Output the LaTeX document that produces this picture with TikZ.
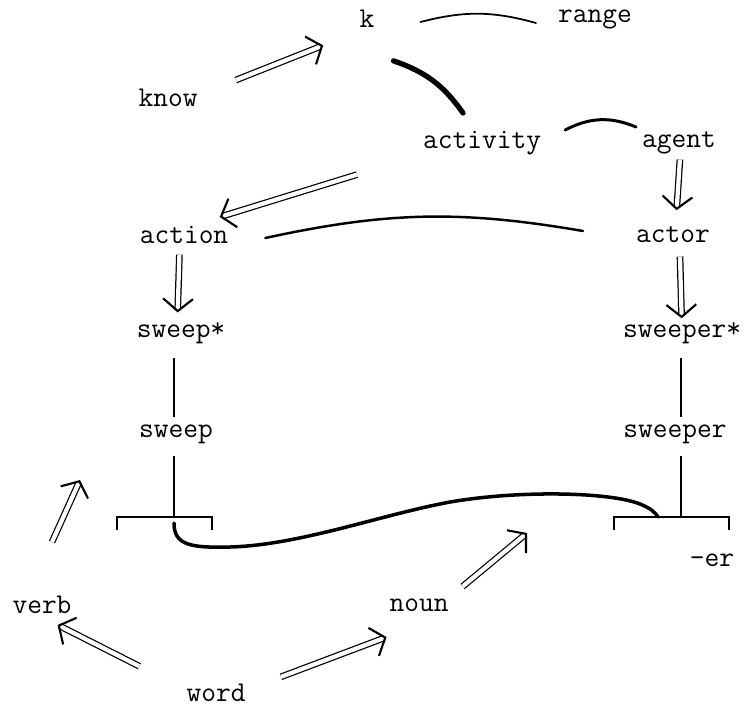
\documentclass[tikz,border=0pt]{standalone}
\usepackage{fontspec}
\usetikzlibrary{arrows.meta, calc}

\begin{document}
\begin{tikzpicture}[x=0.02cm, y=-0.02cm,
        every node/.style={font=\ttfamily\fontsize{16.3}{19}\selectfont,
                           inner sep=1pt},
        isa/.style={double, double distance=2.4pt, line width=0.7pt,
                    -{Straight Barb[length=7pt, width=17pt, line width=1.2pt]}},
        arc/.style={line width=1pt, line cap=round},
        heavy/.style={line width=2pt, line cap=round}]
      \useasboundingbox (0,0) rectangle (743,707);
      \node (k)         at (367, 19) {k};
      \node (range)     at (595, 19) {range};
      \node (know)      at (168, 98) {know};
      \node (activity)  at (482,143) {activity};
      \node (agent)     at (679,143) {agent};
      \node (action)    at (184,235) {action};
      \node (actor)     at (673,235) {actor};
      \node (sweepst)   at (181,333) {sweep*};
      \node (sweeperst) at (682,333) {sweeper*};
      \node (sweep)     at (176,434) {sweep};
      \node (sweeper)   at (675,434) {sweeper};
      \node (er)        at (712,560) {-er};
      \node (verb)      at (42,605)  {verb};
      \node (noun)      at (419,605) {noun};
      \node (word)      at (216,693) {word};
      % morph brackets and free arrow ends
      \coordinate (lb) at (174,517);
      \coordinate (rb) at (681,517);
      \coordinate (verbtip) at (80,480);
      \coordinate (nountip) at (527,533);
      % companion links
      \draw[arc] ($(k.east)+(44,3)$) to[bend left=15] ($(range.west)+(-20,4)$);
      \draw[heavy, line width=3pt] ($(k.south east)+(17,31)$)
            to[bend left=18] ($(activity.north)+(-19,-16)$);
      \draw[arc, line width=1.7pt] ($(activity.east)+(22,-13)$)
            to[bend left=25] ($(agent.west)+(-4,-16)$);
      \draw[arc, line width=1.4pt] ($(action.east)+(35,3)$)
            to[bend left=11] ($(actor.west)+(-51,-4)$);
      % isa arrows
      \draw[isa] ($(know)!.34!(k)+(0,9)$) -- ($(know)!.78!(k)+(0,9)$);
      \draw[isa] ($(activity)!.42!(action)+(0,-7)$) -- ($(activity)!.88!(action)+(0,-7)$);
      \draw[isa] ($(agent)!.18!(actor)+(2,0)$) -- ($(agent)!.73!(actor)+(2,0)$);
      \draw[isa] ($(action)!.2!(sweepst)+(-4,0)$) -- ($(action)!.79!(sweepst)+(-4,0)$);
      \draw[isa] ($(actor)!.22!(sweeperst)+(5,0)$) -- ($(actor)!.85!(sweeperst)+(1,0)$);
      \draw[isa] ($(verb.north)+(10,-52)$) -- (verbtip);
      \draw[isa] ($(noun.north east)+(12,-10)$) -- (nountip);
      \draw[isa] ($(word)!.44!(verb)+(0,12)$) -- ($(word)!.91!(verb)+(0,12)$);
      \draw[isa] ($(word)!.32!(noun)+(0,12)$) -- ($(word)!.84!(noun)+(0,18)$);
      % sweep + -er
      \draw[line width=0.8pt, shorten <=0.25cm, shorten >=0.1cm]
            (sweepst.south -| lb) -- (sweep.north -| lb);
      \draw[line width=0.8pt, shorten <=0.25cm, shorten >=0.1cm]
            (sweeperst.south -| rb) -- (sweeper.north -| rb);
      \draw[line width=0.8pt] ($(sweep.south -| lb)+(0,10)$) -- (lb);
      \draw[line width=0.8pt] ($(sweeper.south -| rb)+(0,10)$) -- (rb);
      \draw[line width=1pt] (lb) ++(-57,13) -- ++(0,-13) -- ++(95,0) -- ++(0,13);
      \draw[line width=1pt] (rb) ++(-67,13) -- ++(0,-13) -- ++(115,0) -- ++(0,13);
      \draw[heavy] ($(lb)+(0,6)$) .. controls (174,545) and (190,548) .. (230,547)
            .. controls (300,545) and (380,515) .. (450,502)
            .. controls (520,490) and (610,492) .. (640,504)
            .. controls (650,508) and (655,512) .. ($(rb)+(-23,0)$);
    \end{tikzpicture}
\end{document}
